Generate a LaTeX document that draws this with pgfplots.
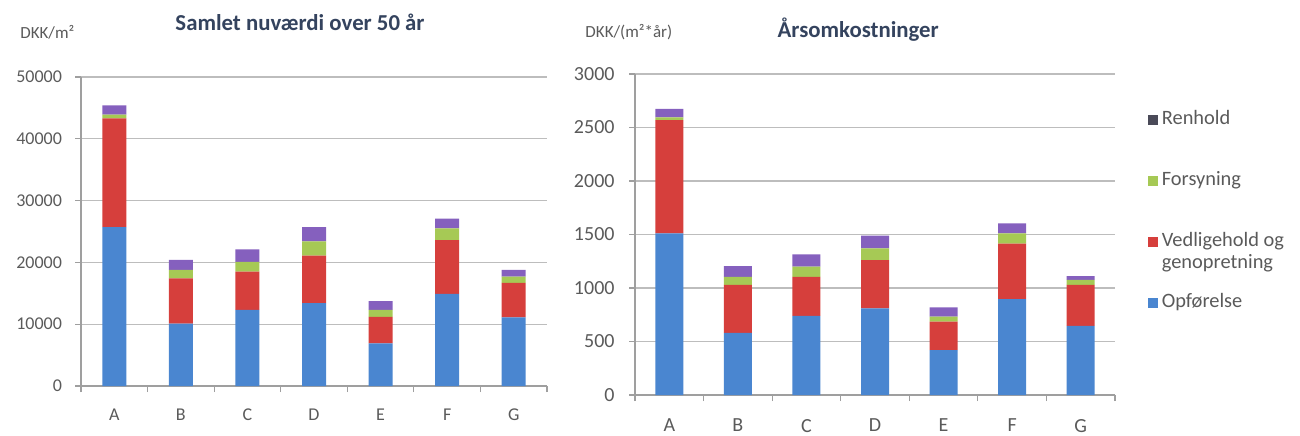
\documentclass[border=0pt]{standalone}
\usepackage{fontspec}
\setmainfont{Carlito}
\usepackage{pgfplots}
\usepackage{pgfplotstable}
\pgfplotsset{compat=1.18}

\definecolor{opf}{HTML}{4A86D0}
\definecolor{ved}{HTML}{D63F3C}
\definecolor{fors}{HTML}{A6C955}
\definecolor{renh}{HTML}{8560BE}
\definecolor{renhleg}{HTML}{4A4A58}
\definecolor{titlec}{HTML}{34435E}
\definecolor{gridc}{HTML}{BDBDBD}
\definecolor{labc}{HTML}{5A5A5A}

% Samlet nuvaerdi over 50 aar (DKK/m2)
\pgfplotstableread{
c opf ved fors renh
0 25700 17600 600 1500
1 10100 7300 1400 1600
2 12300 6200 1600 2000
3 13400 7700 2300 2300
4 6900 4300 1100 1450
5 14900 8700 1900 1600
6 11100 5600 1000 1100
}\nuvaerdi

% Aarsomkostninger (DKK/(m2*aar))
\pgfplotstableread{
c opf ved fors renh
0 1510 1060 25 80
1 580 450 75 100
2 740 365 95 115
3 810 450 110 120
4 420 265 47 87
5 895 520 95 95
6 645 385 45 35
}\aarlig

\pgfplotsset{
  costbar/.style={
    ybar stacked, scale only axis, clip=false,
    axis x line*=bottom, axis y line*=left,
    xmin=-0.5, xmax=6.5,
    xtick={0,...,6}, xticklabels={A,B,C,D,E,F,G},
    minor xtick={-0.5,0.5,...,6.5},
    major x tick style={draw=none},
    tick align=outside, major tick length=3pt, minor tick length=3pt,
    ymin=0, ymajorgrids,
    grid style={gridc, line width=0.6pt},
    axis line style={gray!75, line width=0.6pt},
    tick style={gray!75, line width=0.6pt},
    scaled y ticks=false,
    ticklabel style={text=labc},
    /pgf/number format/assume math mode=true,
    /pgf/number format/1000 sep={},
    title style={font=\bfseries\fontsize{11.4}{13}\selectfont, text=titlec, anchor=center},
  },
}
\tikzset{unitlabel/.style={anchor=west, inner sep=0pt, font=\fontsize{8.5}{10}\selectfont, text=labc}}

\begin{document}
\begin{tikzpicture}
\begin{axis}[costbar,
    at={(40.5pt,24.5pt)}, anchor=south west,
    width=233pt, height=154.5pt, bar width=12pt,
    ymax=50000, ytick={0,10000,...,50000},
    ticklabel style={font=\fontsize{9}{10}\selectfont},
    yticklabel style={xshift=-3pt},
    xticklabel style={yshift=-5pt},
    title={Samlet nuværdi over 50 år},
    title style={at={(0.47,1.139)}},
]
\addplot[fill=opf, draw=none] table[x=c, y=opf]{\nuvaerdi};
\addplot[fill=ved, draw=none] table[x=c, y=ved]{\nuvaerdi};
\addplot[fill=fors, draw=none] table[x=c, y=fors]{\nuvaerdi};
\addplot[fill=renh, draw=none] table[x=c, y=renh]{\nuvaerdi};
\node[unitlabel] at (rel axis cs:-0.131,1.146) {DKK/m²};
\end{axis}

\begin{axis}[costbar,
    at={(317.5pt,20pt)}, anchor=south west,
    width=240pt, height=160.5pt, bar width=14pt,
    ymax=3000, ytick={0,500,...,3000},
    ticklabel style={font=\fontsize{10}{11}\selectfont},
    yticklabel style={xshift=-3.7pt},
    xticklabel style={yshift=-5.5pt},
    title={Årsomkostninger},
    title style={at={(0.465,1.100)}},
    legend cell align=left,
    legend style={at={(1.056,0.913)}, anchor=north west, draw=none, fill=none,
      font=\fontsize{10.2}{11}\selectfont, text=labc, row sep=17pt,
      nodes={text height=7pt, text depth=2.5pt}},
]
\addlegendimage{legend image code/.code={\fill[renhleg] (0pt,-2.2pt) rectangle (4.4pt,2.2pt);}}
\addlegendimage{legend image code/.code={\fill[fors] (0pt,-2.2pt) rectangle (4.4pt,2.2pt);}}
\addlegendimage{legend image code/.code={\fill[ved] (0pt,-2.2pt) rectangle (4.4pt,2.2pt);}}
\addlegendimage{legend image code/.code={\fill[opf] (0pt,-2.2pt) rectangle (4.4pt,2.2pt);}}
\addplot[fill=opf, draw=none] table[x=c, y=opf]{\aarlig};
\addplot[fill=ved, draw=none] table[x=c, y=ved]{\aarlig};
\addplot[fill=fors, draw=none] table[x=c, y=fors]{\aarlig};
\addplot[fill=renh, draw=none] table[x=c, y=renh]{\aarlig};
\legend{Renhold, Forsyning, {\begin{tabular}[t]{@{}l@{}}Vedligehold og\\genopretning\end{tabular}}, Opførelse}
\node[unitlabel] at (rel axis cs:-0.104,1.131) {DKK/(m²*år)};
\end{axis}
\pgfresetboundingbox
\path[use as bounding box] (0,0) rectangle (650pt,217.5pt);
\end{tikzpicture}
\end{document}
